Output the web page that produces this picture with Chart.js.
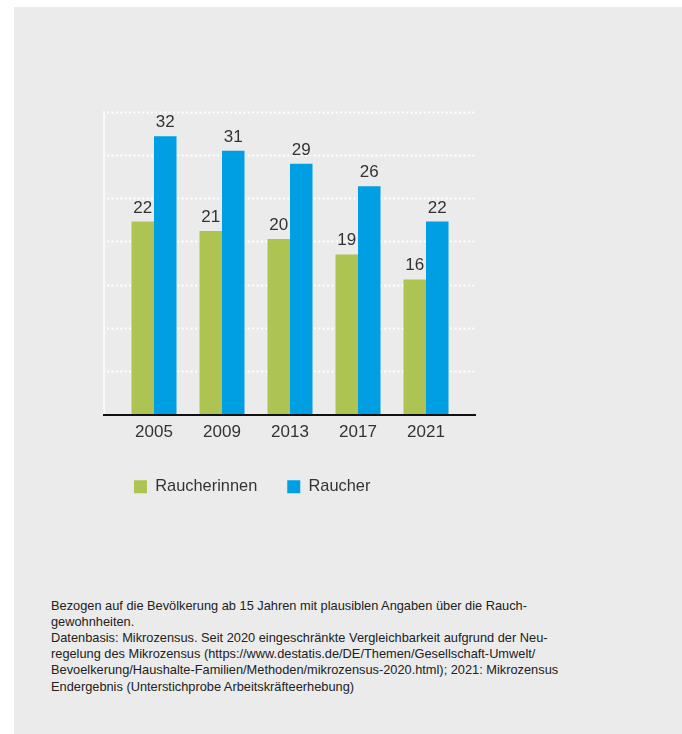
<!DOCTYPE html>
<html>
<head>
<meta charset="utf-8">
<script src="https://cdn.jsdelivr.net/npm/chart.js@4/dist/chart.umd.min.js"></script>
<style>
  html, body { margin: 0; padding: 0; background: #ffffff; width: 682px; height: 734px; overflow: hidden; }
  #panel { position: absolute; left: 14px; top: 7px; width: 668px; height: 727px; background: #ebebeb; }
  #wrap { position: absolute; left: 0; top: 0; width: 682px; height: 540px; }
  #note { position: absolute; left: 51px; top: 597.5px; width: 620px; font-family: "Liberation Sans", Arial, sans-serif;
          font-size: 12.8px; line-height: 16.2px; color: #222; white-space: nowrap; }
</style>
</head>
<body>
<div id="panel"></div>
<div id="wrap"><canvas id="c"></canvas></div>
<div id="note">
Bezogen auf die Bevölkerung ab 15 Jahren mit plausiblen Angaben über die Rauch-<br>
gewohnheiten.<br>
Datenbasis: Mikrozensus. Seit 2020 eingeschränkte Vergleichbarkeit aufgrund der Neu-<br>
regelung des Mikrozensus (https://www.destatis.de/DE/Themen/Gesellschaft-Umwelt/<br>
Bevoelkerung/Haushalte-Familien/Methoden/mikrozensus-2020.html); 2021: Mikrozensus<br>
Endergebnis (Unterstichprobe Arbeitskräfteerhebung)
</div>
<script>
const years = ['2005', '2009', '2013', '2017', '2021'];
const seriesNames = ['Raucherinnen', 'Raucher'];
const raucherinnen = [22.3, 21.2, 20.3, 18.5, 15.6];
const raucher = [32.2, 30.5, 29.0, 26.4, 22.3];
const raucherinnenLabels = ['22', '21', '20', '19', '16'];
const raucherLabels = ['32', '31', '29', '26', '22'];
const yTicks = [0, 5, 10, 15, 20, 25, 30, 35];

const FONT = '"Liberation Sans", Arial, sans-serif';
const TEXT = '#333333';
const EXT = 16;

const gridPlugin = {
  id: 'gridPlugin',
  beforeDatasetsDraw(chart) {
    const {ctx, chartArea, scales: {y}} = chart;
    const left = chartArea.left - EXT, right = chartArea.right + EXT;
    ctx.save();
    ctx.strokeStyle = '#ffffff';
    ctx.lineWidth = 2;
    ctx.setLineDash([2, 2.4]);
    yTicks.forEach(v => {
      if (v === 0) return;
      const py = Math.round(y.getPixelForValue(v)) + 0.5;
      ctx.beginPath(); ctx.moveTo(left + 3, py); ctx.lineTo(right, py); ctx.stroke();
    });
    ctx.setLineDash([]);
    ctx.lineWidth = 1.5;
    ctx.beginPath();
    ctx.moveTo(left, y.getPixelForValue(35) - 1);
    ctx.lineTo(left, y.getPixelForValue(0));
    ctx.stroke();
    ctx.restore();
  },
  afterDatasetsDraw(chart) {
    const {ctx, chartArea, scales: {y}} = chart;
    const left = chartArea.left - EXT, right = chartArea.right + EXT;
    ctx.save();
    ctx.strokeStyle = '#111111';
    ctx.lineWidth = 2;
    const py = y.getPixelForValue(0) + 1;
    ctx.beginPath(); ctx.moveTo(left - 1, py); ctx.lineTo(right, py); ctx.stroke();
    const labelSets = [raucherinnenLabels, raucherLabels];
    ctx.font = '17px ' + FONT;
    ctx.fillStyle = TEXT;
    ctx.textAlign = 'center';
    ctx.textBaseline = 'alphabetic';
    chart.data.datasets.forEach((ds, di) => {
      const meta = chart.getDatasetMeta(di);
      meta.data.forEach((el, i) => {
        ctx.fillText(labelSets[di][i], el.x, el.y - 9);
      });
    });
    ctx.restore();
  }
};

new Chart(document.getElementById('c'), {
  type: 'bar',
  data: {
    labels: years,
    datasets: [
      { label: seriesNames[0], data: raucherinnen, backgroundColor: '#adc452', borderWidth: 0 },
      { label: seriesNames[1], data: raucher, backgroundColor: '#009fe3', borderWidth: 0 }
    ]
  },
  options: {
    responsive: true,
    maintainAspectRatio: false,
    animation: false,
    devicePixelRatio: 1,
    layout: { padding: { left: 104, right: 222, top: 112, bottom: 35 } },
    datasets: { bar: { categoryPercentage: 0.662, barPercentage: 1.0 } },
    scales: {
      x: {
        grid: { display: false, drawTicks: false },
        border: { display: false },
        ticks: { color: TEXT, font: { family: FONT, size: 17 }, padding: 8 },
        afterFit(s) { s.height = 34.5; }
      },
      y: {
        min: 0, max: 35,
        afterBuildTicks(s) { s.ticks = yTicks.map(v => ({ value: v })); },
        grid: { display: false, drawTicks: false },
        border: { display: false },
        ticks: { display: false },
        afterFit(s) { s.width = EXT; }
      }
    },
    plugins: {
      legend: {
        position: 'bottom',
        align: 'start',
        labels: {
          boxWidth: 13, boxHeight: 13, padding: 30,
          color: TEXT, font: { family: FONT, size: 16.4 }
        }
      },
      tooltip: { enabled: false }
    }
  },
  plugins: [gridPlugin]
});
</script>
</body>
</html>
